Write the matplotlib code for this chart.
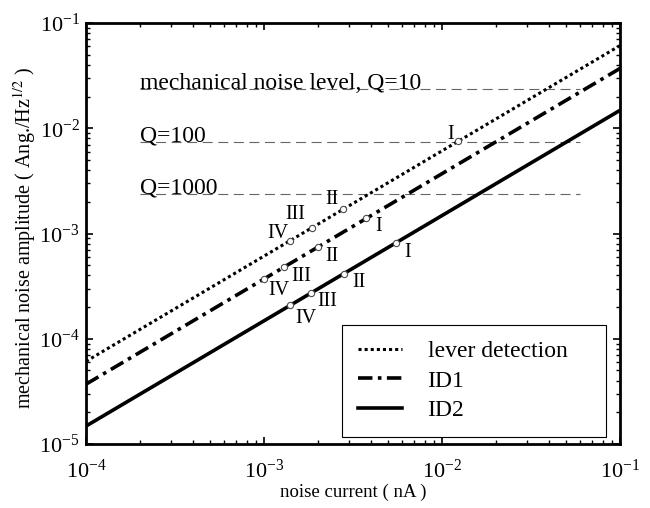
import numpy as np
import matplotlib.pyplot as plt

# ---- datos ----
current = [1e-4, 1e-1]
lever_amp = [6.1e-5, 6.1e-2]
id1_amp = [3.7e-5, 3.7e-2]
id2_amp = [1.48e-5, 1.48e-2]

q_levels = [2.35e-2, 7.4e-3, 2.35e-3]
q_labels = ["mechanical noise level, Q=10", "Q=100", "Q=1000"]
q_x = [2e-4, 6e-2]

roman = ["I", "II", "III", "IV"]
lever_pts_x = [1.23e-2, 2.78e-3, 1.87e-3, 1.40e-3]
lever_pts_y = [7.5e-3, 1.7e-3, 1.14e-3, 8.5e-4]
id1_pts_x = [3.75e-3, 2.01e-3, 1.30e-3, 1.0e-3]
id1_pts_y = [1.39e-3, 7.4e-4, 4.8e-4, 3.7e-4]
id2_pts_x = [5.5e-3, 2.81e-3, 1.83e-3, 1.40e-3]
id2_pts_y = [8.1e-4, 4.16e-4, 2.7e-4, 2.07e-4]

# desplazamiento de las etiquetas (pixeles)
lever_off = [(-7, 7), (-11, 10), (-17, 13), (-12, 7)]
id1_off = [(12, -8), (14, -9), (17, -9), (15, -12)]
id2_off = [(12, -9), (15, -9), (17, -8), (16, -13)]

plt.rcParams["font.family"] = ["Liberation Serif", "DejaVu Serif"]
plt.rcParams["mathtext.fontset"] = "stix"

fig = plt.figure(figsize=(6.5, 5.08), dpi=100)
ax = fig.add_axes([0.1323, 0.126, 0.8215, 0.8287])

for y, lab in zip(q_levels, q_labels):
    ax.plot(q_x, [y, y], color="0.4", linestyle=(0, (9, 5)), linewidth=0.8)
    ax.text(q_x[0], y * 1.015, lab, fontsize=17, va="baseline", ha="left")

ax.plot(current, lever_amp, color="black", linestyle=(0, (1, 1)), linewidth=2.2,
        label="lever detection")
ax.plot(current, id1_amp, color="black", linestyle=(0, (4, 1.5, 1, 1.5)), linewidth=2.6,
        label="ID1")
ax.plot(current, id2_amp, color="black", linestyle="-", linewidth=2.6, label="ID2")

for xs, ys, offs in [(lever_pts_x, lever_pts_y, lever_off),
                     (id1_pts_x, id1_pts_y, id1_off),
                     (id2_pts_x, id2_pts_y, id2_off)]:
    ax.plot(xs, ys, "o", markersize=4.5, markerfacecolor="white",
            markeredgecolor="0.3", markeredgewidth=0.8, linestyle="none")
    for x, y, r, (dx, dy) in zip(xs, ys, roman, offs):
        ax.annotate(r, (x, y), xytext=(dx * 0.72, dy * 0.72), textcoords="offset points",
                    ha="center", va="center", fontsize=14.5)

ax.set_xscale("log")
ax.set_yscale("log")
ax.set_xlim(1e-4, 1e-1)
ax.set_ylim(1e-5, 1e-1)
ax.set_xlabel("noise current ( nA )", fontsize=13.5, labelpad=1)
ax.set_ylabel("mechanical noise amplitude ( Ang./Hz$^{1/2}$ )", fontsize=14.5)
ax.yaxis.set_label_coords(-0.09, 0.49)

ax.tick_params(which="both", direction="in", top=True, right=True, labelsize=16)
ax.tick_params(axis="x", which="major", pad=11)
ax.tick_params(axis="y", which="major", pad=4.5)
ax.tick_params(which="major", length=5, width=1.2)
ax.tick_params(which="minor", length=3, width=1)
for s in ax.spines.values():
    s.set_linewidth(2)

leg = ax.legend(loc="lower left", bbox_to_anchor=(0.48, 0.017, 0.4935, 0.27),
                mode="expand", fontsize=17, fancybox=False, edgecolor="black",
                framealpha=1, handlelength=1.86, handletextpad=1.1, borderpad=0.65,
                labelspacing=0.35, borderaxespad=0)
leg.get_frame().set_linewidth(0.8)

fig.savefig("out.png", dpi=100)
